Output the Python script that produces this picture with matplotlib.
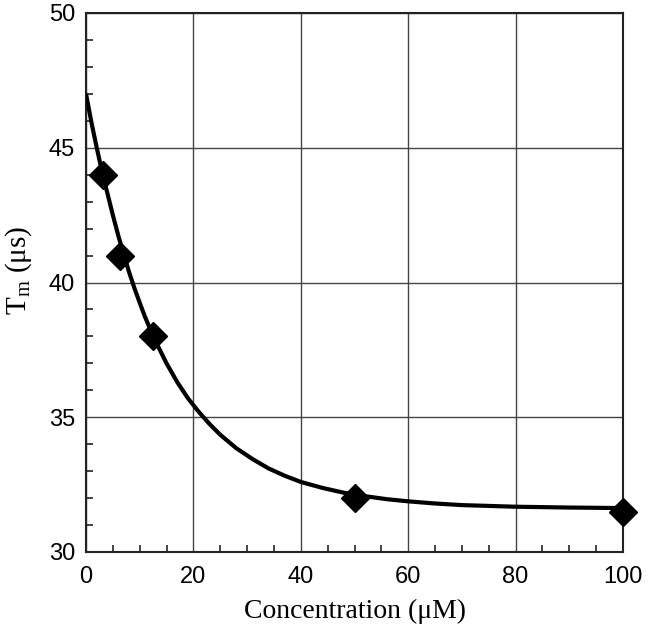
import matplotlib
matplotlib.use("Agg")
import matplotlib.pyplot as plt
from matplotlib.ticker import MultipleLocator

# measured points
conc = [3.125, 6.25, 12.5, 50, 100]
tm = [44.0, 41.0, 38.0, 32.0, 31.5]

# fitted curve
curve_x = [0, 1, 2, 3, 4, 5, 6, 7, 8, 9, 10, 11, 12, 13, 14, 15, 17, 19, 21, 23, 25,
           28, 31, 34, 37, 40, 44, 48, 52, 56, 60, 65, 70, 80, 90, 100]
curve_y = [47.0, 45.95, 45.0, 44.1, 43.3, 42.5, 41.75, 41.05, 40.4, 39.8, 39.25, 38.72,
           38.25, 37.8, 37.4, 37.0, 36.3, 35.7, 35.2, 34.75, 34.35, 33.85, 33.45, 33.1,
           32.83, 32.6, 32.38, 32.2, 32.07, 31.96, 31.88, 31.8, 31.74, 31.68, 31.65, 31.63]

xticks = [0, 20, 40, 60, 80, 100]
yticks = [30, 35, 40, 45, 50]

plt.rcParams['mathtext.fontset'] = 'custom'
plt.rcParams['mathtext.rm'] = 'Liberation Serif'

fig = plt.figure(figsize=(6.48, 6.27), dpi=100)
ax = fig.add_axes([86/648, 1-552/627, (623-86)/648, (552-13)/627])

ax.plot(curve_x, curve_y, color='black', lw=3.0, solid_capstyle='butt', zorder=3)
ax.plot(conc, tm, linestyle='none', marker='D', ms=14, color='black', zorder=4, clip_on=False)

ax.set_xlim(0, 100)
ax.set_ylim(30, 50)
ax.set_xticks(xticks)
ax.set_yticks(yticks)
ax.xaxis.set_minor_locator(MultipleLocator(5))
ax.yaxis.set_minor_locator(MultipleLocator(1))
ax.grid(True, which='major', color='#444444', lw=1.0)
ax.set_axisbelow(True)
ax.tick_params(which='major', direction='in', length=0, labelsize=17)
ax.tick_params(axis='y', which='major', pad=8)
ax.tick_params(axis='x', which='major', pad=10)
ax.tick_params(which='minor', direction='in', length=5, width=1.2, color='#222222')
for lab in ax.get_xticklabels() + ax.get_yticklabels():
    lab.set_family('Liberation Sans')
for s in ax.spines.values():
    s.set_linewidth(1.5)
    s.set_color('#222222')

ax.set_xlabel('Concentration (μM)', family='Liberation Serif', fontsize=20, labelpad=8)
ax.set_ylabel(r'T$_{\mathrm{m}}$ (μs)', family='Liberation Serif', fontsize=21)
ax.yaxis.set_label_coords(-0.097, 0.523)

fig.savefig('out.png', dpi=100)
